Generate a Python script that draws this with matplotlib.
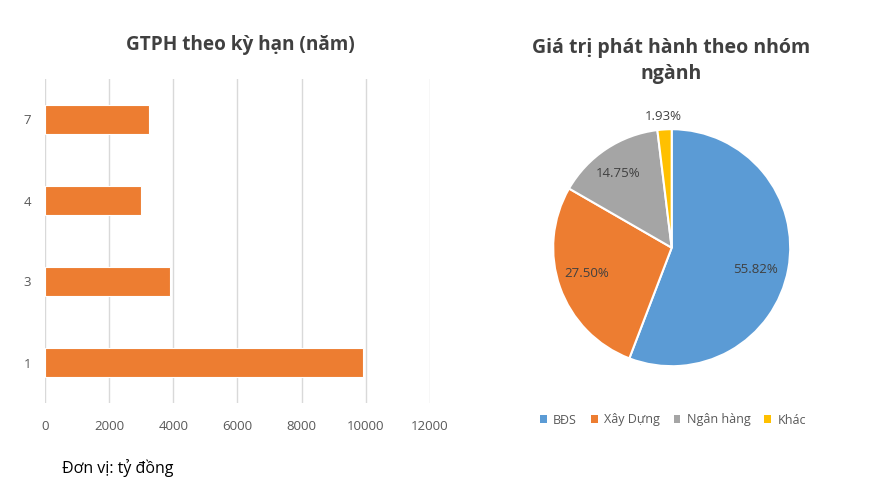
import matplotlib
matplotlib.use("Agg")
import matplotlib.pyplot as plt
import numpy as np
from matplotlib.patches import Patch

plt.rcParams['font.family'] = ['Open Sans', 'DejaVu Sans']

terms = ["1", "3", "4", "7"]
term_values = [9900, 3900, 3000, 3250]
x_ticks = [0, 2000, 4000, 6000, 8000, 10000, 12000]

sectors = ["BĐS", "Xây Dựng", "Ngân hàng", "Khác"]
shares = [55.82, 27.50, 14.75, 1.93]
colors = ["#5B9BD5", "#ED7D31", "#A5A5A5", "#FFC000"]

W, H = 878, 499
fig = plt.figure(figsize=(W / 100, H / 100), dpi=100)
fig.patch.set_facecolor("white")

txt = "#404040"
tick_c = "#595959"

# ---- bar chart ----
ax = fig.add_axes([45 / W, 1 - 403 / H, 385 / W, 324 / H])
y = np.arange(len(terms))
ax.barh(y, term_values, height=0.35, color="#ED7D31", edgecolor="white", linewidth=0.8, zorder=3)
ax.set_xlim(0, 12000)
ax.set_ylim(-0.5, len(terms) - 0.5)
ax.set_xticks(x_ticks)
ax.set_xticklabels([str(t) for t in x_ticks], fontsize=9.5, color=tick_c)
ax.set_yticks(y)
ax.set_yticklabels(terms, fontsize=9.5, color=tick_c)
ax.tick_params(axis='x', length=0, pad=12)
ax.tick_params(axis='y', length=0, pad=10)
ax.grid(axis='x', color="#D9D9D9", linewidth=1, zorder=0)
for s in ax.spines.values():
    s.set_visible(False)
fig.text(240 / W, 1 - 45 / H, "GTPH theo kỳ hạn (năm)", ha='center', va='center',
         fontsize=13.7, fontweight='bold', color=txt)
fig.text(62 / W, 1 - 468 / H, "Đơn vị: tỷ đồng", ha='left', va='center', fontsize=11.5, color="black")

# ---- pie chart ----
cx, cy, r = 671.7, 247.7, 118.5
pax = fig.add_axes([(cx - r) / W, 1 - (cy + r) / H, 2 * r / W, 2 * r / H])
wedges, _ = pax.pie(shares, colors=colors, startangle=90, counterclock=False,
                    wedgeprops=dict(edgecolor="white", linewidth=1.5))
pax.set_xlim(-1, 1)
pax.set_ylim(-1, 1)
pax.set_aspect('auto')
pax.axis('off')

# label placement (angle in degrees, radius fraction) per slice, as Excel "best fit"
label_angle = [-14.7, -163.0, 126.0, 93.5]
label_rad = [0.73, 0.75, 0.77, 1.11]
for v, a, rr in zip(shares, label_angle, label_rad):
    t = np.deg2rad(a)
    pax.text(rr * np.cos(t), rr * np.sin(t), f"{v:.2f}%", ha='center', va='center',
             fontsize=9.5, color=txt, clip_on=False)

fig.text(671 / W, 1 - 61 / H, "Giá trị phát hành theo nhóm\nngành", ha='center', va='center',
         fontsize=14, fontweight='bold', color=txt, linespacing=1.35)

handles = [Patch(facecolor=c, edgecolor='none') for c in colors]
leg = fig.legend(handles, sectors, loc='center', bbox_to_anchor=(673 / W, 1 - 420 / H),
                 ncol=4, frameon=False, fontsize=9, handlelength=0.55, handleheight=0.55,
                 handletextpad=0.5, columnspacing=1.1, labelcolor=tick_c)

fig.savefig("out.png", dpi=100, facecolor="white")
